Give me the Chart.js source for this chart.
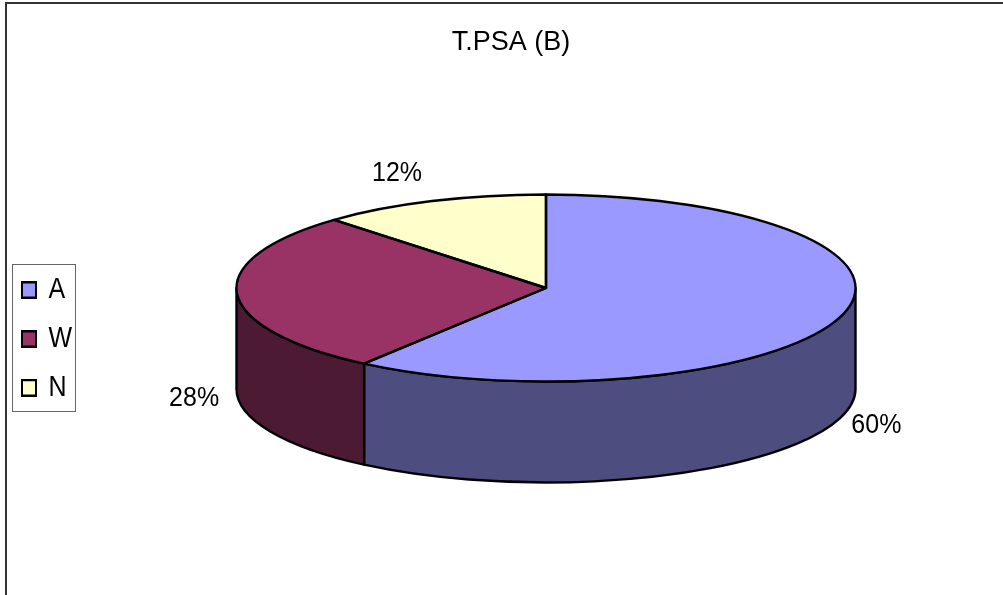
<!DOCTYPE html>
<html>
<head>
<meta charset="utf-8">
<style>html,body{margin:0;padding:0;background:#fff;overflow:hidden}canvas{display:block}</style>
<script src="https://cdn.jsdelivr.net/npm/chart.js@4"></script>
</head>
<body>
<canvas id="c" width="1003" height="595"></canvas>
<script>
const categories = ['A', 'W', 'N'];
const seriesValues = [60, 28, 12];
const percentLabels = ['60%', '28%', '12%'];
const topColors = ['#9999FF', '#993366', '#FFFFCC'];
const sideColors = ['#4D4D80', '#4D1A33', '#808066'];
const titleText = 'T.PSA (B)';

const FONT = '"Liberation Sans", Arial, sans-serif';
const RX = 309.5, RY = 93.5, DEPTH = 101;
const LABEL_OFFSETS = [[36, 7], [-43, 3], [-35, -28]];
const TEXT_STRETCH = 1.12, LEGEND_STRETCH = 1.15, LEGEND_PIVOT = 290;
const EDGE = 2.4;

const pie3d = {
  id: 'pie3d',
  afterLayout(chart) {
    const t = chart.titleBlock;
    t.left -= 35; t.right -= 35;
    const l = chart.legend;
    const w = l.width, h = l.height;
    l.left = 4.4; l.right = l.left + w;
    l.top = LEGEND_PIVOT - 12.5 - 17.6; l.bottom = l.top + h;
    if (!l._stretched) {
      const orig = l.draw.bind(l);
      l.draw = function () {
        const ctx = chart.ctx;
        ctx.save();
        ctx.translate(0, LEGEND_PIVOT);
        ctx.scale(1, LEGEND_STRETCH);
        ctx.translate(0, -LEGEND_PIVOT);
        orig();
        ctx.restore();
      };
      l._stretched = true;
    }
  },
  beforeDatasetsDraw(chart) {
    const ctx = chart.ctx;
    // outer frame
    ctx.save();
    ctx.strokeStyle = '#333';
    ctx.lineWidth = 2;
    ctx.beginPath();
    ctx.moveTo(6, 595); ctx.lineTo(6, 3); ctx.lineTo(1003, 3);
    ctx.stroke();
    // legend frame
    ctx.strokeStyle = '#666';
    ctx.lineWidth = 1;
    ctx.strokeRect(12.5, 264.5, 63, 147);
    ctx.restore();

    const arcs = chart.getDatasetMeta(0).data;
    const cx = arcs[0].x, cy = arcs[0].y;
    // side walls
    arcs.forEach((arc, i) => {
      const a0 = Math.max(arc.startAngle, 0), a1 = Math.min(arc.endAngle, Math.PI);
      if (a1 <= a0) return;
      ctx.save();
      ctx.beginPath();
      ctx.ellipse(cx, cy, RX, RY, 0, a0, a1);
      ctx.ellipse(cx, cy + DEPTH, RX, RY, 0, a1, a0, true);
      ctx.closePath();
      ctx.fillStyle = sideColors[i];
      ctx.fill();
      ctx.strokeStyle = '#000';
      ctx.lineWidth = EDGE;
      ctx.lineJoin = 'round';
      ctx.stroke();
      ctx.restore();
    });
    // squash the pie top into an ellipse
    ctx.save();
    ctx.translate(cx, cy);
    ctx.scale(1, RY / RX);
    ctx.translate(-cx, -cy);
  },
  afterDatasetsDraw(chart) {
    const ctx = chart.ctx;
    ctx.restore();
    const arcs = chart.getDatasetMeta(0).data;
    const cx = arcs[0].x, cy = arcs[0].y;
    ctx.save();
    ctx.strokeStyle = '#000';
    ctx.lineWidth = EDGE;
    ctx.lineJoin = 'round';
    arcs.forEach(arc => {
      ctx.beginPath();
      ctx.moveTo(cx, cy);
      ctx.ellipse(cx, cy, RX, RY, 0, arc.startAngle, arc.endAngle);
      ctx.closePath();
      ctx.stroke();
    });
    // percentage labels
    ctx.fillStyle = '#000';
    ctx.font = '25px ' + FONT;
    ctx.textAlign = 'center';
    ctx.textBaseline = 'middle';
    arcs.forEach((arc, i) => {
      const mid = (arc.startAngle + arc.endAngle) / 2;
      const px = cx + RX * Math.cos(mid);
      const py = cy + RY * Math.sin(mid) + (Math.sin(mid) > 0 ? DEPTH : 0);
      ctx.save();
      ctx.translate(px + LABEL_OFFSETS[i][0], py + LABEL_OFFSETS[i][1]);
      ctx.scale(1, TEXT_STRETCH);
      ctx.fillText(percentLabels[i], 0, 0);
      ctx.restore();
    });
    ctx.restore();
  }
};

new Chart(document.getElementById('c'), {
  type: 'pie',
  data: {
    labels: categories,
    datasets: [{
      data: seriesValues,
      backgroundColor: topColors,
      borderWidth: 0,
      radius: RX,
      clip: false
    }]
  },
  options: {
    responsive: false,
    animation: false,
    layout: { padding: { left: 89, right: 0, top: 0, bottom: 77.4 } },
    plugins: {
      tooltip: { enabled: false },
      title: {
        display: true,
        text: titleText,
        color: '#000',
        font: { family: FONT, size: 27, weight: 'normal' },
        padding: { top: 26, bottom: 0 }
      },
      legend: {
        display: true,
        position: 'chartArea',
        align: 'start',
        labels: {
          color: '#000',
          font: { family: FONT, size: 25 },
          boxWidth: 14,
          boxHeight: 13.5,
          padding: 17.6,
          generateLabels(chart) {
            return Chart.overrides.pie.plugins.legend.labels.generateLabels(chart).map(it => {
              it.lineWidth = 2;
              it.strokeStyle = '#000';
              return it;
            });
          }
        }
      }
    }
  },
  plugins: [pie3d]
});
</script>
</body>
</html>
